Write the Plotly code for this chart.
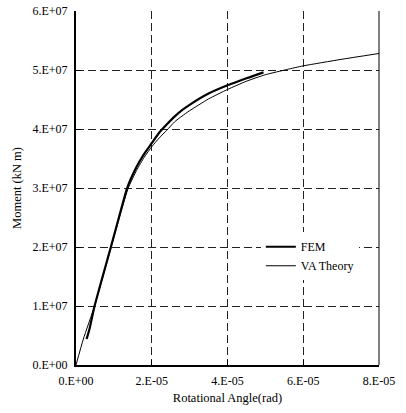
import plotly.graph_objects as go

# Data (angle in rad, moment in kN m)
fem_theta = [0.28e-5, 0.36e-5, 0.49e-5, 0.92e-5, 1.2e-5, 1.35e-5, 1.6e-5, 1.8e-5, 2.0e-5,
             2.2e-5, 2.4e-5, 2.6e-5, 2.8e-5, 3.0e-5, 3.5e-5, 4.0e-5, 4.5e-5, 4.95e-5]
fem_moment = [0.44e7, 0.62e7, 1.0e7, 2.0e7, 2.66e7, 3.0e7, 3.36e7, 3.58e7, 3.76e7,
              3.94e7, 4.08e7, 4.21e7, 4.32e7, 4.41e7, 4.60e7, 4.74e7, 4.86e7, 4.96e7]

va_theta = [0.0, 0.194e-5, 0.49e-5, 0.93e-5, 1.2e-5, 1.38e-5, 1.6e-5, 1.8e-5, 2.0e-5,
            2.2e-5, 2.4e-5, 2.6e-5, 2.8e-5, 3.0e-5, 3.5e-5, 4.0e-5, 4.5e-5, 5.0e-5,
            5.58e-5, 6.0e-5, 7.0e-5, 8.0e-5]
va_moment = [0.0, 0.44e7, 1.0e7, 2.0e7, 2.62e7, 3.0e7, 3.3e7, 3.52e7, 3.70e7,
             3.85e7, 3.98e7, 4.12e7, 4.22e7, 4.31e7, 4.51e7, 4.67e7, 4.81e7, 4.92e7,
             5.01e7, 5.07e7, 5.18e7, 5.28e7]

x_tickvals = [0, 2e-5, 4e-5, 6e-5, 8e-5]
x_ticktext = ["0.E+00", "2.E-05", "4.E-05", "6.E-05", "8.E-05"]
y_tickvals = [0, 1e7, 2e7, 3e7, 4e7, 5e7, 6e7]
y_ticktext = ["0.E+00", "1.E+07", "2.E+07", "3.E+07", "4.E+07", "5.E+07", "6.E+07"]

font_family = "Liberation Serif"

fig = go.Figure()
fig.add_trace(go.Scatter(x=fem_theta, y=fem_moment, mode="lines", name="FEM",
                         line=dict(color="black", width=2.2, shape="spline", smoothing=0.5)))
fig.add_trace(go.Scatter(x=va_theta, y=va_moment, mode="lines", name="VA Theory",
                         line=dict(color="black", width=1, shape="spline", smoothing=0.5)))

fig.update_layout(
    width=406, height=413,
    margin=dict(l=76, r=27, t=11, b=48),
    paper_bgcolor="white", plot_bgcolor="white",
    font=dict(family=font_family, size=12, color="black"),
    showlegend=True,
    legend=dict(x=0.61, y=0.375, xanchor="left", yanchor="top",
                bgcolor="white", borderwidth=0,
                font=dict(family=font_family, size=12, color="black"),
                tracegroupgap=0, itemwidth=30),
    xaxis=dict(range=[0, 8e-5], tickvals=x_tickvals, ticktext=x_ticktext,
               showgrid=True, gridcolor="#222", gridwidth=1, griddash="8px,4px",
               showline=True, linecolor="black", linewidth=1.5,
               ticks="inside", ticklen=5, tickcolor="black",
               zeroline=False, automargin=False, ticklabelstandoff=4,
               tickfont=dict(family=font_family, size=12),
               title=dict(text="Rotational Angle(rad)", standoff=6,
                          font=dict(family=font_family, size=12.5))),
    yaxis=dict(range=[0, 6e7], tickvals=y_tickvals, ticktext=y_ticktext,
               showgrid=True, gridcolor="#222", gridwidth=1, griddash="8px,4px",
               showline=True, linecolor="black", linewidth=2,
               ticks="inside", ticklen=5, tickcolor="black",
               zeroline=False, automargin=False, ticklabelstandoff=4,
               tickfont=dict(family=font_family, size=12),
               title=dict(text="Moment (kN m)", standoff=8,
                          font=dict(family=font_family, size=12.5))),
    shapes=[dict(type="line", xref="paper", yref="paper", x0=1, x1=1, y0=0, y1=1,
                 line=dict(color="black", width=1))],
)

fig.write_html("out.html")
